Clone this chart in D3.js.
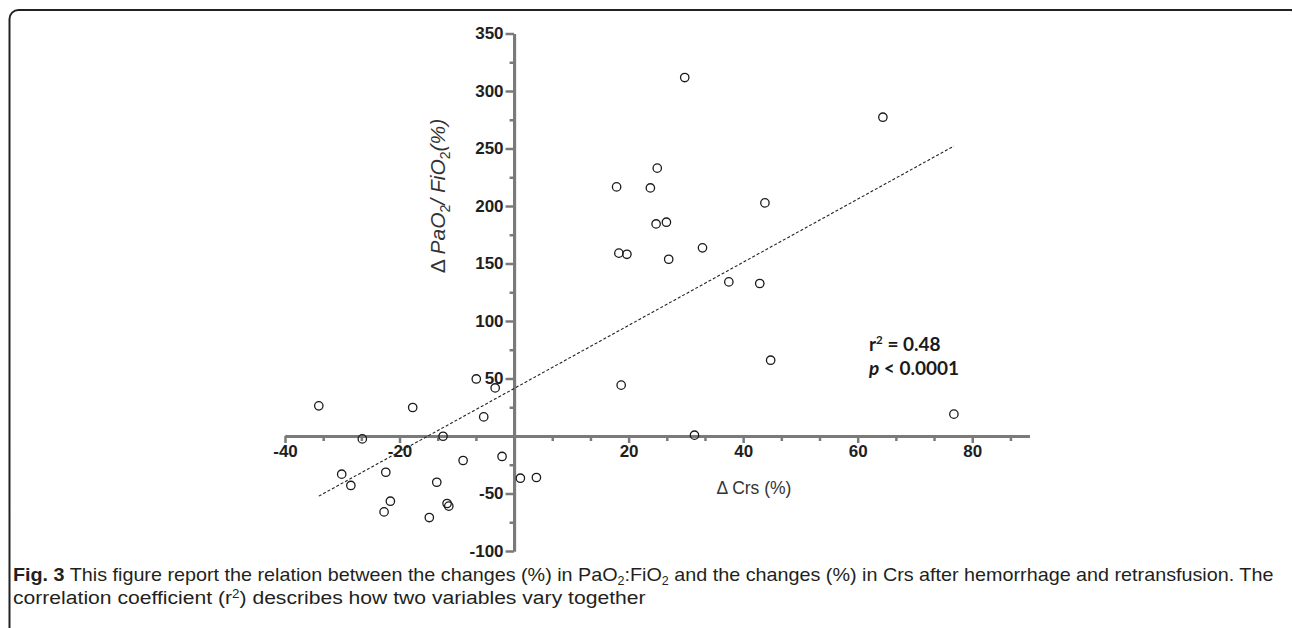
<!DOCTYPE html>
<html>
<head>
<meta charset="utf-8">
<script src="https://cdn.jsdelivr.net/npm/d3@7"></script>
<style>
  html, body { margin: 0; padding: 0; background: #fff; }
  svg { display: block; }
</style>
</head>
<body>
<svg id="chart" width="1292" height="628"></svg>
<script>
// Change in respiratory system compliance (%) for each animal
const crsChange = [
  -34.1, -30.1, -28.5, -26.5, -22.4, -22.7, -21.6, -17.7, -14.8, -13.5,
  -12.4, -11.7, -11.4, -8.9, -6.6, -5.3, -3.3, -2.1, 1.1, 3.9,
  17.9, 18.3, 18.7, 19.7, 23.8, 24.8, 25.0, 26.6, 27.0, 29.8,
  31.5, 32.9, 37.5, 42.9, 43.8, 44.8, 64.4, 76.8
];
// Change in PaO2/FiO2 (%) for the same animals
const pfChange = [
  26.2, -33.2, -43.0, -2.5, -31.5, -66.0, -56.7, 24.8, -70.9, -40.2,
  -0.2, -58.7, -61.0, -21.3, 49.6, 16.6, 41.8, -17.8, -36.7, -36.1,
  216.6, 159.0, 44.2, 158.0, 215.7, 184.4, 232.9, 185.9, 153.7, 311.7,
  0.7, 163.6, 134.0, 132.6, 202.7, 65.9, 277.2, 19.0
];
const xTickLabels = [-40, -20, 20, 40, 60, 80];
const yTickLabels = [350, 300, 250, 200, 150, 100, 50, -50, -100];
const r2Text = "0.48";
const pText = "0.0001";

const svg = d3.select("#chart");

// rounded frame around figure and caption
svg.append("rect")
  .attr("x", 9.5).attr("y", 10).attr("width", 1290).attr("height", 660)
  .attr("rx", 9).attr("ry", 9)
  .attr("fill", "none").attr("stroke", "#222").attr("stroke-width", 2);

const x = d3.scaleLinear().domain([-40, 90]).range([285, 1029.5]);
const y = d3.scaleLinear().domain([-100, 350]).range([551, 33.5]);

const axisColor = "#7a7a7a";
const labelFont = "'Liberation Sans', Arial, sans-serif";
const plainNumber = d => String(d);

function styleAxis(g) {
  g.select(".domain").attr("stroke", axisColor).attr("stroke-width", 3);
  g.selectAll(".tick line").attr("stroke", axisColor).attr("stroke-width", 2.5);
  g.selectAll(".tick text")
    .attr("fill", "#1e1e1e")
    .style("font-family", labelFont)
    .style("font-weight", "bold")
    .style("font-size", "17px");
}

// minor ticks
const xMinor = d3.range(0, 20).map(i => -40 + i * 20 / 3).filter((v, i) => i % 3 !== 0);
const yMinor = d3.range(-75, 350, 50);

svg.append("g")
  .attr("transform", `translate(0,${y(0)})`)
  .call(d3.axisBottom(x).tickValues(xMinor).tickSize(5).tickSizeOuter(0).tickFormat(""))
  .call(styleAxis);

svg.append("g")
  .attr("transform", `translate(${x(0)},0)`)
  .call(d3.axisLeft(y).tickValues(yMinor).tickSize(4.5).tickSizeOuter(0).tickFormat(""))
  .call(styleAxis);

// major ticks with labels
svg.append("g")
  .attr("transform", `translate(0,${y(0)})`)
  .call(d3.axisBottom(x).tickValues(xTickLabels).tickSize(7).tickSizeOuter(0).tickPadding(2).tickFormat(plainNumber))
  .call(styleAxis);

svg.append("g")
  .attr("transform", `translate(${x(0)},0)`)
  .call(d3.axisLeft(y).tickValues(yTickLabels).tickSize(8.5).tickSizeOuter(0).tickPadding(2).tickFormat(plainNumber))
  .call(styleAxis);

// axis titles
const yTitle = svg.append("text")
  .attr("transform", `translate(445,196) rotate(-90)`)
  .attr("text-anchor", "middle")
  .attr("fill", "#333")
  .style("font-family", labelFont)
  .style("font-size", "21px");
yTitle.append("tspan").text("\u0394 ");
yTitle.append("tspan").style("font-style", "italic").text("PaO");
yTitle.append("tspan").attr("dy", 5).style("font-size", "14px").text("2");
yTitle.append("tspan").attr("dy", -5).style("font-style", "italic").text("/ FiO");
yTitle.append("tspan").attr("dy", 5).style("font-size", "14px").text("2");
yTitle.append("tspan").attr("dy", -5).style("font-style", "italic").text("(%)");

svg.append("text")
  .attr("x", 754).attr("y", 494)
  .attr("text-anchor", "middle")
  .attr("fill", "#333")
  .style("font-family", labelFont)
  .style("font-size", "17.5px")
  .text("\u0394 Crs (%)");

// data points
const points = crsChange.map((v, i) => ({ crs: v, pf: pfChange[i] }));
svg.append("g")
  .selectAll("circle")
  .data(points)
  .join("circle")
  .attr("cx", d => x(d.crs))
  .attr("cy", d => y(d.pf))
  .attr("r", 4.2)
  .attr("fill", "none")
  .attr("stroke", "#1a1a1a")
  .attr("stroke-width", 1.3);

// least-squares fit
const mx = d3.mean(crsChange), my = d3.mean(pfChange);
let sxy = 0, sxx = 0;
points.forEach(p => { sxy += (p.crs - mx) * (p.pf - my); sxx += (p.crs - mx) ** 2; });
const slope = sxy / sxx, intercept = my - slope * mx;
const [xmin, xmax] = d3.extent(crsChange);
svg.append("line")
  .attr("x1", x(xmin)).attr("y1", y(intercept + slope * xmin))
  .attr("x2", x(xmax)).attr("y2", y(intercept + slope * xmax))
  .attr("stroke", "#222")
  .attr("stroke-width", 1.1)
  .attr("stroke-dasharray", "3,2");

// statistics
const statFont = "Lato, 'Open Sans', sans-serif";
const s1 = svg.append("text")
  .attr("x", 869).attr("y", 351)
  .attr("fill", "#1a1a1a")
  .style("font-family", statFont)
  .style("font-weight", "bold")
  .style("font-size", "19px");
s1.append("tspan").text("r");
s1.append("tspan").attr("dy", -7).style("font-size", "11.5px").text("2");
s1.append("tspan").attr("dy", 7).text(" = " + r2Text);

const s2 = svg.append("text")
  .attr("x", 869).attr("y", 375)
  .attr("fill", "#1a1a1a")
  .style("font-family", statFont)
  .style("font-weight", "bold")
  .style("font-size", "19px");
s2.append("tspan").style("font-style", "italic").text("p");
s2.append("tspan").text(" < " + pText);

// caption
const capFont = "'Liberation Sans Narrow', 'Liberation Sans', Arial, sans-serif";
function captionLine() {
  return svg.append("text")
    .attr("x", 0).attr("y", 0)
    .attr("fill", "#231f20")
    .style("font-family", capFont)
    .style("font-size", "19px");
}
const c1 = captionLine();
c1.append("tspan").style("font-weight", "bold").text("Fig. 3");
c1.append("tspan").text(" This figure report the relation between the changes (%) in PaO");
c1.append("tspan").attr("dy", 4).style("font-size", "12px").text("2");
c1.append("tspan").attr("dy", -4).text(":FiO");
c1.append("tspan").attr("dy", 4).style("font-size", "12px").text("2");
c1.append("tspan").attr("dy", -4).text(" and the changes (%) in Crs after hemorrhage and retransfusion. The");

const c2 = captionLine();
c2.append("tspan").text("correlation coefficient (r");
c2.append("tspan").attr("dy", -6).style("font-size", "12px").text("2");
c2.append("tspan").attr("dy", 6).text(") describes how two variables vary together");

// condense each caption line to its set width
const sx1 = 1261 / c1.node().getComputedTextLength();
const sx2 = 633 / c2.node().getComputedTextLength();
c1.attr("transform", `translate(13,581) scale(${sx1},1)`);
c2.attr("transform", `translate(13,604) scale(${sx2},1)`);
</script>
</body>
</html>
